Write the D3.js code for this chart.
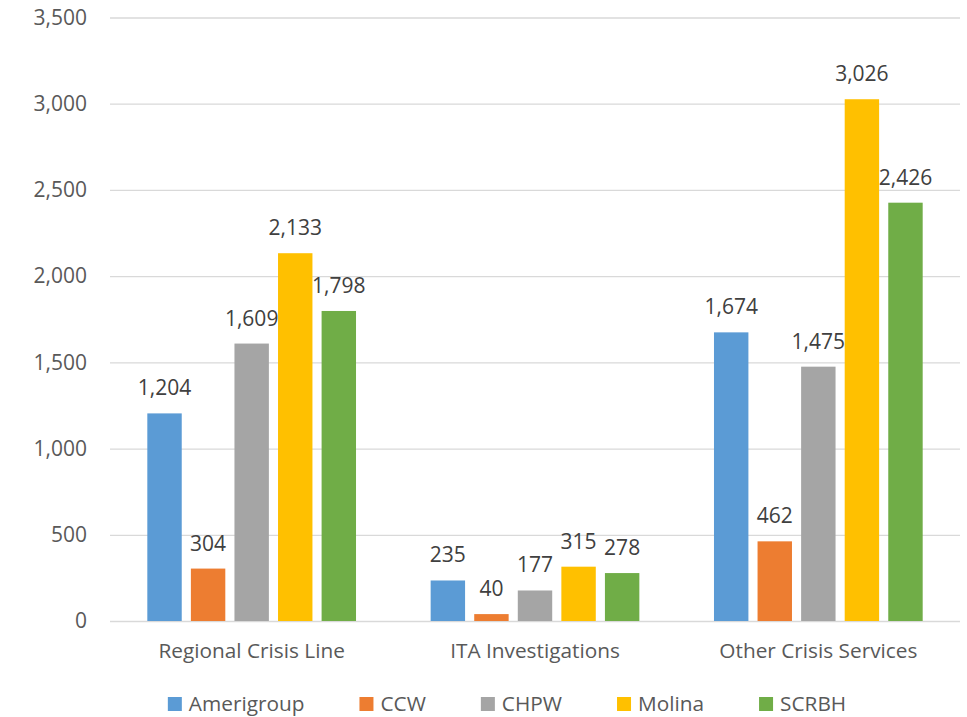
<!DOCTYPE html>
<html><head><meta charset="utf-8">
<script src="https://cdn.jsdelivr.net/npm/d3@7"></script>
<style>body{margin:0;background:#fff}svg{display:block}text{font-family:"Open Sans",sans-serif;fill:#595959}</style>
</head><body><svg id="c" width="967" height="717"></svg>
<script>
const categories = ["Regional Crisis Line", "ITA Investigations", "Other Crisis Services"];
const seriesNames = ["Amerigroup", "CCW", "CHPW", "Molina", "SCRBH"];
const amerigroup = [1204, 235, 1674];
const ccw = [304, 40, 462];
const chpw = [1609, 177, 1475];
const molina = [2133, 315, 3026];
const scrbh = [1798, 278, 2426];
const yTicks = [0, 500, 1000, 1500, 2000, 2500, 3000, 3500];
const colors = ["#5B9BD5", "#ED7D31", "#A5A5A5", "#FFC000", "#70AD47"];

(function() {
const seriesValues = [amerigroup, ccw, chpw, molina, scrbh];
const svg = d3.select("#c");
const mLeft = 110, mRight = 960, mTop = 17.5, mBottom = 621;
const fs = 20.8;
const x0 = d3.scaleBand().domain(categories).range([mLeft, mRight]).padding(0);
const bw = x0.bandwidth();
const x1 = d3.scaleBand().domain(seriesNames).range([bw * 0.1317, bw * (1 - 0.1317)]).paddingInner(0.21).paddingOuter(0);
const y = d3.scaleLinear().domain([0, 3500]).range([mBottom, mTop]);
const fmt = d3.format(",");

const yAxis = d3.axisLeft(y).tickValues(yTicks).tickFormat(fmt).tickSize(-(mRight - mLeft)).tickPadding(23);
const ga = svg.append("g").attr("transform", `translate(${mLeft},0)`).call(yAxis);
ga.select(".domain").remove();
ga.selectAll(".tick line").attr("stroke", "#D9D9D9").attr("stroke-width", 1.3);
ga.selectAll(".tick text").attr("font-size", 21).style("font-family", '"Open Sans",sans-serif').attr("fill", "#595959");

const groups = svg.append("g").selectAll("g").data(categories).join("g")
  .attr("transform", d => `translate(${x0(d)},0)`);
groups.each(function(cat, ci) {
  const g = d3.select(this);
  const rows = seriesNames.map((s, si) => ({s, si, v: seriesValues[si][ci]}));
  g.selectAll("rect").data(rows).join("rect")
    .attr("x", d => x1(d.s)).attr("width", x1.bandwidth())
    .attr("y", d => y(d.v)).attr("height", d => y(0) - y(d.v))
    .attr("fill", d => colors[d.si]);
  g.selectAll("text").data(rows).join("text")
    .attr("x", d => x1(d.s) + x1.bandwidth() / 2)
    .attr("y", d => y(d.v) - 18)
    .attr("text-anchor", "middle").attr("font-size", 21)
    .style("fill", "#404040")
    .text(d => fmt(d.v));
});

const xAxis = d3.axisBottom(x0).tickSize(0).tickPadding(22);
const gx = svg.append("g").attr("transform", `translate(0,${mBottom})`).call(xAxis);
gx.select(".domain").remove();
gx.selectAll(".tick text").attr("font-size", fs).style("font-family", '"Open Sans",sans-serif').attr("fill", "#595959");

const lg = svg.append("g");
const gap = 55;
let cx = 0;
seriesNames.forEach((s, i) => {
  const it = lg.append("g");
  it.append("rect").attr("x", 0).attr("y", -7).attr("width", 14).attr("height", 14).attr("fill", colors[i]);
  const t = it.append("text").attr("x", 21).attr("y", 7).attr("font-size", fs).text(s);
  const w = 21 + t.node().getComputedTextLength();
  it.attr("transform", `translate(${cx},0)`);
  cx += w + gap;
});
const total = cx - gap;
lg.attr("transform", `translate(${507 - total / 2},704)`);
})();
</script></body></html>
